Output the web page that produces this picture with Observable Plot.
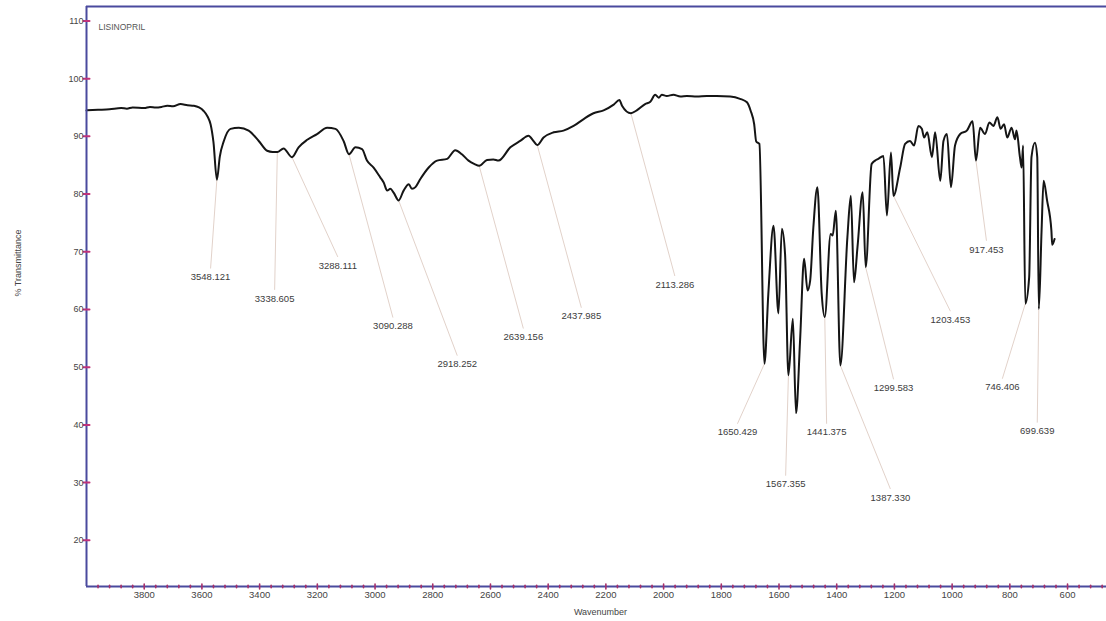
<!DOCTYPE html>
<html>
<head>
<meta charset="utf-8">
<script src="https://cdn.jsdelivr.net/npm/d3@7"></script>
<script src="https://cdn.jsdelivr.net/npm/@observablehq/plot@0.6"></script>
<style>
  html, body { margin: 0; padding: 0; background: #fff; }
  #chart svg { display: block; }
</style>
</head>
<body>
<div id="chart"></div>
<script>
// FT-IR spectrum of lisinopril: wavenumber (cm⁻¹) against % transmittance
const wavenumber = [
  4000, 3960, 3920, 3880, 3860, 3840, 3800, 3780, 3760, 3740, 3720, 3700, 3674, 3650, 3628, 3610,
  3594, 3580, 3570, 3560, 3548.121, 3538, 3524, 3501, 3472, 3438, 3403, 3374, 3355, 3338.605,
  3317, 3288.111, 3265, 3235, 3201, 3166, 3137, 3109, 3090.288, 3068, 3045, 3028, 3005, 2982,
  2970, 2958, 2947, 2935, 2918.252, 2901, 2883, 2872, 2860, 2843, 2814, 2785, 2750, 2722, 2699,
  2676, 2655, 2639.156, 2612, 2590, 2572, 2531, 2497, 2468, 2451, 2437.985, 2416, 2381, 2347,
  2312, 2277, 2243, 2208, 2173, 2153, 2144, 2113.286, 2093, 2064, 2046, 2029, 2017, 2006, 1989,
  1966, 1942, 1919, 1885, 1850, 1816, 1769, 1735, 1711, 1698, 1686, 1679, 1668, 1650.429, 1637,
  1619, 1602, 1590, 1579, 1567.355, 1552, 1541, 1527, 1513, 1501, 1492, 1481, 1467, 1452,
  1441.375, 1421, 1414, 1403, 1387.330, 1363, 1351, 1340, 1328, 1310, 1299.583, 1279, 1267, 1256,
  1238, 1226, 1212, 1203.453, 1180, 1163, 1146, 1132, 1117, 1105, 1097, 1086, 1070, 1059, 1041,
  1030, 1018, 1004, 990, 972, 949, 929, 917.453, 903, 886, 871, 857, 843, 832, 820, 809, 794,
  782, 777, 765, 759, 754, 746.406, 733, 725, 713, 705, 699.639, 690, 683, 671, 656, 653, 645
];
const transmittance = [
  94.5, 94.6, 94.7, 94.9, 94.8, 95.0, 94.9, 95.1, 95.0, 95.1, 95.3, 95.2, 95.6, 95.4, 95.3, 95.0,
  94.4, 93.4, 92.1, 89.0, 82.5, 86.5, 89.2, 91.3, 91.5, 91.0, 89.2, 87.5, 87.3, 87.3,
  87.9, 86.4, 88.1, 89.4, 90.4, 91.5, 91.3, 89.2, 86.9, 88.1, 87.8, 85.8, 84.6, 82.9,
  82.0, 80.6, 80.9, 80.2, 78.9, 80.6, 81.7, 80.9, 81.2, 82.6, 84.6, 85.8, 86.1, 87.6, 86.9,
  85.8, 85.2, 84.9, 85.9, 86.0, 85.8, 88.1, 89.2, 90.1, 89.2, 88.5, 89.8, 90.7, 91.0,
  91.8, 93.0, 94.0, 94.5, 95.5, 96.3, 95.3, 94.0, 94.5, 95.6, 96.0, 97.2, 96.7, 97.2, 97.0,
  97.2, 96.9, 97.0, 96.9, 97.0, 97.0, 96.9, 96.5, 95.9, 94.4, 92.1, 89.1, 88.7, 50.6, 62.7,
  74.5, 59.3, 74.0, 69.6, 48.6, 58.4, 42.0, 54.6, 68.8, 63.3, 65.0, 74.2, 81.2, 62.7,
  58.7, 73.1, 72.8, 77.1, 50.3, 72.5, 79.7, 64.7, 70.8, 80.3, 67.3, 85.2, 85.8, 86.1,
  86.6, 76.3, 87.2, 79.7, 84.6, 88.7, 89.2, 88.4, 91.8, 91.3, 89.8, 90.7, 86.4, 90.7, 82.3,
  89.2, 90.4, 81.2, 88.4, 90.4, 91.0, 92.6, 85.8, 91.5, 90.4, 92.4, 91.8, 93.3, 91.3, 92.1, 89.8, 91.5,
  89.5, 91.0, 86.4, 84.6, 88.4, 61.0, 65.6, 86.4, 88.9, 86.4, 60.1, 73.7, 82.3, 78.9, 73.7, 71.2, 72.2
];

// Picked peaks: band position, % transmittance at the band, and where its label sits
const peakWavenumbers = [
  3548.121, 3338.605, 3288.111, 3090.288, 2918.252, 2639.156, 2437.985, 2113.286,
  1650.429, 1567.355, 1441.375, 1387.330, 1299.583, 1203.453, 917.453, 746.406, 699.639
];
const peakTransmittance = [
  82.5, 87.3, 86.4, 86.9, 78.9, 84.9, 88.5, 94.0,
  50.6, 48.6, 58.7, 50.3, 67.3, 79.7, 85.8, 61.0, 60.1
];
const labelWavenumbers = [
  3570, 3348, 3129, 2938, 2715, 2486, 2285, 1961,
  1744, 1577, 1435, 1214, 1203, 1006, 881, 826, 705
];
const labelTransmittance = [
  65.6, 61.9, 67.6, 57.1, 50.5, 55.2, 58.8, 64.3,
  38.7, 29.7, 38.7, 27.4, 46.4, 58.2, 70.4, 46.5, 38.9
];

const yTicks = [20, 30, 40, 50, 60, 70, 80, 90, 100, 110];
const xMajorTicks = [3800, 3600, 3400, 3200, 3000, 2800, 2600, 2400, 2200, 2000, 1800, 1600, 1400, 1200, 1000, 800, 600];
const xMinorTicks = d3.range(3960, 470, -40).filter(v => v % 200 !== 0);

const spectrum = wavenumber.map((w, i) => ({w, t: transmittance[i]}));
const peaks = peakWavenumbers.map((w, i) => ({
  w, t: peakTransmittance[i], lw: labelWavenumbers[i], lt: labelTransmittance[i]
}));

const frameBlue = "#4a4a9e";
const tickPink = "#c0327a";
const labelGray = "#3c3c3c";
const font = "'Liberation Sans', Arial, sans-serif";

// a plain straight stroke for the inward tick marks
const stick = {draw(context, l) { context.moveTo(0, 0); context.lineTo(0, -l); }};

const chart = Plot.plot({
  width: 1106,
  height: 621,
  marginLeft: 86,
  marginRight: 0,
  marginTop: 6,
  marginBottom: 35,
  style: {fontFamily: font, background: "#fff"},
  x: {domain: [4000, 465], axis: null},
  y: {domain: [12, 112.5], axis: null},
  marks: [
    // leader lines from each band to its label
    Plot.link(peaks, {x1: "w", y1: "t", x2: "lw", y2: d => d.lt + 1.5, stroke: "#e2d2ca", strokeWidth: 1}),
    Plot.text(peaks, {x: "lw", y: "lt", text: d => d.w.toFixed(3), fontSize: 9.5, fill: labelGray}),
    // spectrum trace
    Plot.line(spectrum, {x: "w", y: "t", curve: "monotone-x", stroke: "#151515", strokeWidth: 2, strokeLinejoin: "round"}),
    // frame: left, top, bottom
    Plot.ruleX([4000], {stroke: frameBlue, strokeWidth: 2}),
    Plot.ruleY([112.5], {stroke: frameBlue, strokeWidth: 2}),
    Plot.ruleY([12], {stroke: frameBlue, strokeWidth: 2}),
    // inward ticks
    Plot.vector(yTicks, {y: d => d, frameAnchor: "left", length: 6, rotate: 90, shape: stick, stroke: tickPink, strokeWidth: 2}),
    Plot.vector(xMajorTicks, {x: d => d, frameAnchor: "bottom", length: 5, rotate: 0, shape: stick, stroke: "#a8306a", strokeWidth: 1.6}),
    Plot.vector(xMinorTicks, {x: d => d, frameAnchor: "bottom", length: 2.5, rotate: 0, shape: stick, stroke: "#a8306a", strokeWidth: 1.6}),
    // tick labels
    Plot.axisY(yTicks, {tickSize: 0, tickPadding: 3, fontSize: 9, fill: "#444", label: null, tickFormat: d => String(d)}),
    Plot.axisX(xMajorTicks, {tickSize: 0, tickPadding: 4.5, fontSize: 9.5, fill: "#444", label: null, tickFormat: d => String(d)}),
    // titles
    Plot.text(["LISINOPRIL"], {frameAnchor: "top-left", dx: 12, dy: 17, textAnchor: "start", fontSize: 8.5, fill: "#555"}),
    Plot.text(["% Transmittance"], {frameAnchor: "left", dx: -68, rotate: -90, fontSize: 9, fill: "#444"}),
    Plot.text(["Wavenumber"], {frameAnchor: "bottom", dx: 4, dy: 28, fontSize: 9, fill: "#444"})
  ]
});

document.getElementById("chart").appendChild(chart);
</script>
</body>
</html>
